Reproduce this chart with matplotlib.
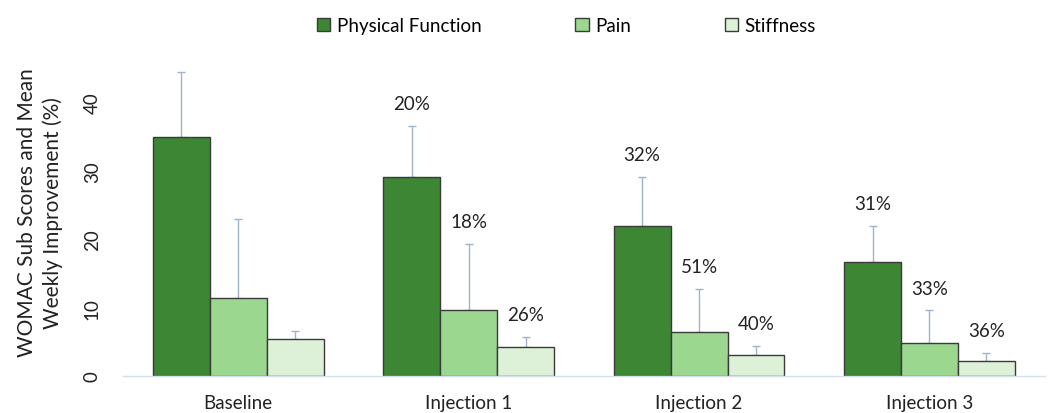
import matplotlib
matplotlib.use("Agg")
import matplotlib.pyplot as plt
import numpy as np

plt.rcParams['font.family'] = ['Lato', 'DejaVu Sans']

categories = ["Baseline", "Injection 1", "Injection 2", "Injection 3"]
series = ["Physical Function", "Pain", "Stiffness"]
physical = [35.0, 29.1, 22.0, 16.6]
physical_err = [9.5, 7.5, 7.1, 5.4]
pain = [11.4, 9.7, 6.4, 4.8]
pain_err = [11.6, 9.6, 6.3, 4.8]
stiffness = [5.4, 4.2, 3.1, 2.2]
stiffness_err = [1.2, 1.5, 1.3, 1.2]
physical_lbl = ["", "20%", "32%", "31%"]
pain_lbl = ["", "18%", "51%", "33%"]
stiffness_lbl = ["", "26%", "40%", "36%"]
yticks = [0, 10, 20, 30, 40]

colors = ["#3d8634", "#9bd78f", "#dcf1d7"]

fig = plt.figure(figsize=(10.51, 4.14), dpi=100)
ax = fig.add_axes([0.117, 0.0894, 0.877, 0.793])

x = np.arange(len(categories))
w = 0.247
vals = [physical, pain, stiffness]
errs = [physical_err, pain_err, stiffness_err]
lbls = [physical_lbl, pain_lbl, stiffness_lbl]
for i, (v, e, l) in enumerate(zip(vals, errs, lbls)):
    pos = x + (i - 1) * w
    ax.bar(pos, v, w, color=colors[i], edgecolor="#3a3a3a", linewidth=1.0,
           label=series[i], zorder=2)
    ax.errorbar(pos, v, yerr=[np.zeros(len(v)), e], fmt="none",
                ecolor="#9fb3cc", elinewidth=1.0, capsize=3, capthick=1.0, zorder=1)
    for p, vv, ee, t in zip(pos, v, e, l):
        if t:
            ax.annotate(t, (p, vv + ee), xytext=(0, 16), textcoords="offset points",
                        ha="center", va="center", fontsize=13.5, color="#222222")

ax.set_xlim(-0.5, 3.5)
ax.set_ylim(0, 48)
ax.set_xticks(x)
ax.set_xticklabels(categories, fontsize=13.5, color="#222222")
ax.set_yticks(yticks)
ax.set_yticklabels([str(t) for t in yticks], fontsize=13.5, rotation=90,
                   va="center", color="#222222")
ax.tick_params(axis="both", length=0)
ax.tick_params(axis="x", pad=13)
ax.tick_params(axis="y", pad=16)
for s in ["top", "right", "left"]:
    ax.spines[s].set_visible(False)
ax.spines["bottom"].set_color("#d5dde9")
ax.spines["bottom"].set_linewidth(1.0)

ax.set_ylabel("WOMAC Sub Scores and Mean\nWeekly Improvement (%)", fontsize=15,
              color="#222222", labelpad=15, linespacing=1.35)

fig.legend(loc="center", bbox_to_anchor=(0.539, 0.936), ncol=3, frameon=False,
           fontsize=13.5, handlelength=0.7, handleheight=0.7, handletextpad=0.35,
           columnspacing=5.0)

fig.savefig("out.png", dpi=100)
